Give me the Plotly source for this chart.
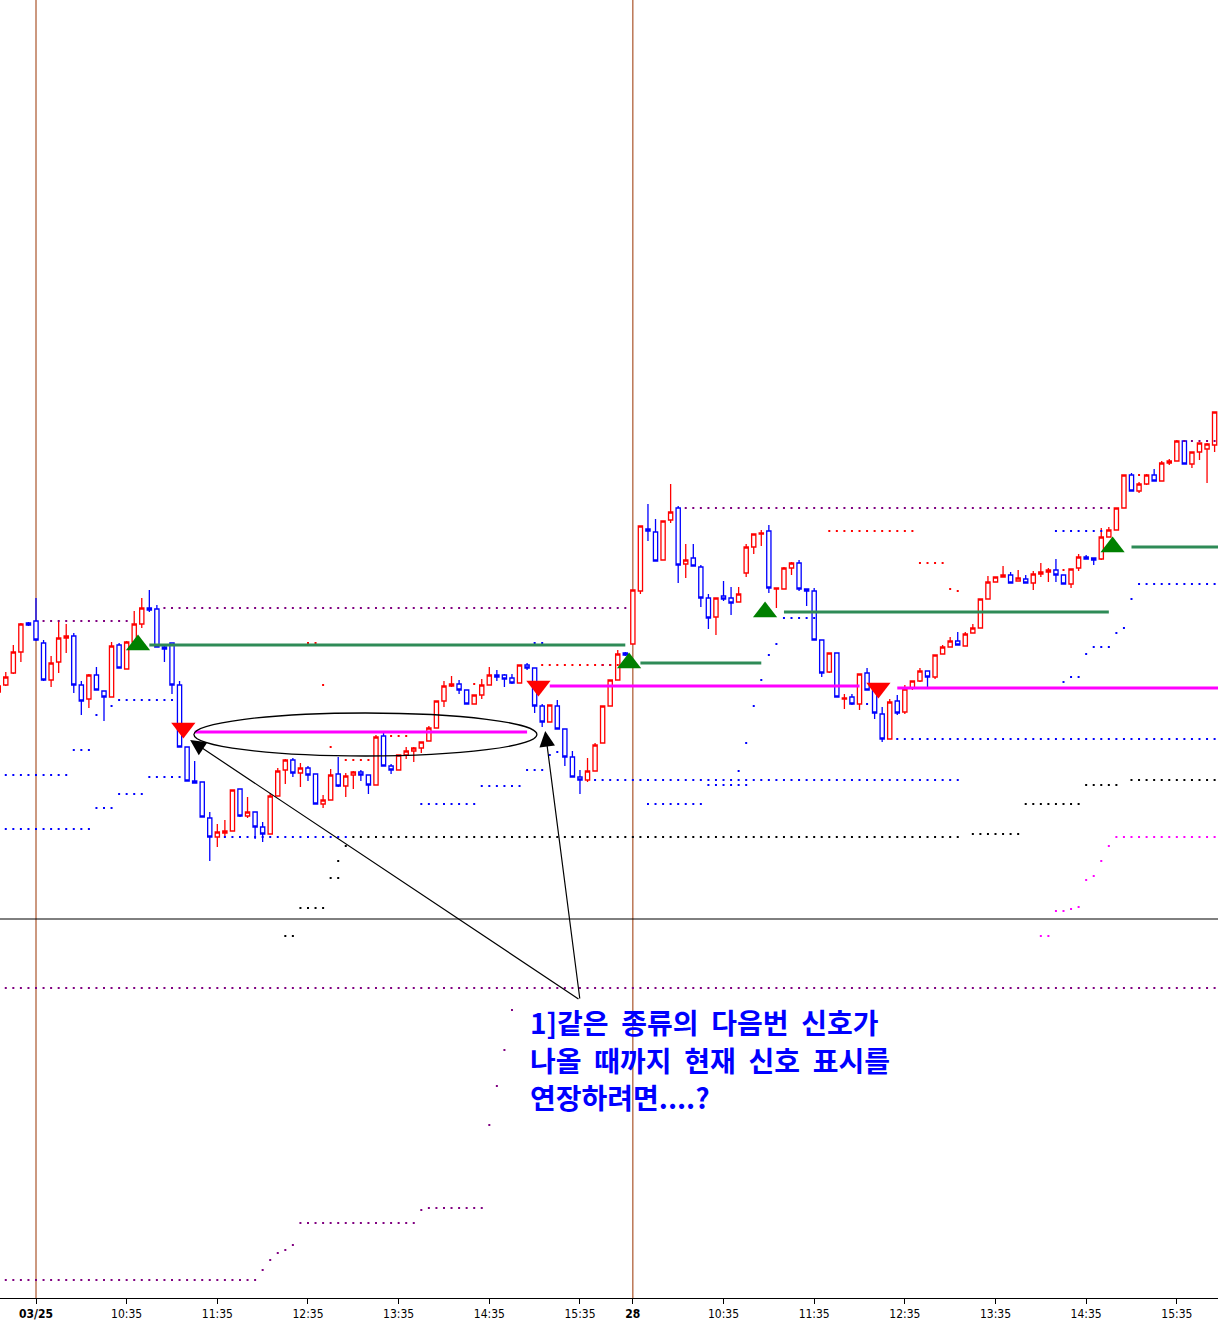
import plotly.graph_objects as go

# ---------------- data ----------------
bars = list(range(-5, 157))  # 5-minute bar index (0 = first bar of 03/25, 79 = first bar of 28)

open_ = [708, 715, 727, 748, 777, 779, 757, 720, 738, 762, 764, 715, 701, 725, 709, 703, 755, 731, 758, 776,
         792, 791, 753, 757, 715, 653, 619, 618, 582, 563, 567, 569, 611, 584, 588, 573, 566, 604, 630, 640,
         627, 632, 626, 596, 600, 626, 614, 625, 628, 625, 615, 664, 634, 630, 645, 649, 652, 659, 672, 699,
         714, 716, 710, 696, 705, 715, 725, 725, 722, 717, 735, 732, 694, 678, 694, 671, 643, 623, 620, 629,
         657, 694, 720, 747, 756, 809, 871, 868, 840, 880, 892, 836, 842, 833, 802, 783, 804, 802, 798, 827,
         853, 866, 869, 811, 811, 832, 837, 811, 809, 760, 728, 747, 701, 703, 696, 727, 710, 686, 661, 699,
         688, 712, 719, 729, 723, 746, 753, 759, 754, 767, 772, 801, 818, 823, 825, 819, 821, 817, 826, 828,
         830, 825, 816, 832, 843, 842, 841, 863, 870, 892, 925, 909, 916, 925, 919, 937, 939, 959, 936, 948,
         951, 955]
high = [716, 728, 755, 777, 778, 802, 760, 744, 780, 776, 767, 719, 726, 733, 709, 758, 757, 759, 789, 802,
        810, 795, 755, 757, 719, 653, 639, 618, 588, 576, 580, 610, 611, 603, 588, 578, 607, 632, 641, 642,
        637, 634, 626, 605, 631, 643, 627, 629, 630, 625, 665, 668, 636, 645, 653, 653, 658, 674, 699, 719,
        724, 720, 710, 705, 721, 733, 730, 726, 726, 735, 737, 732, 696, 695, 700, 671, 649, 630, 642, 657,
        694, 720, 750, 748, 810, 874, 896, 881, 879, 916, 894, 856, 856, 835, 806, 802, 819, 813, 813, 856,
        866, 870, 875, 812, 833, 838, 840, 811, 812, 760, 747, 747, 706, 706, 726, 732, 710, 693, 701, 705,
        715, 719, 732, 729, 745, 755, 763, 768, 768, 776, 801, 824, 823, 834, 828, 830, 825, 829, 837, 832,
        841, 825, 831, 846, 845, 842, 872, 873, 892, 925, 927, 918, 926, 931, 939, 941, 960, 960, 948, 957,
        957, 988]
low = [703, 714, 726, 738, 774, 759, 719, 713, 727, 747, 707, 685, 692, 710, 679, 703, 732, 731, 755, 772,
       788, 753, 738, 706, 653, 619, 617, 583, 539, 553, 563, 569, 583, 582, 561, 558, 566, 604, 616, 623,
       613, 619, 596, 592, 600, 613, 603, 611, 619, 606, 615, 634, 626, 630, 641, 638, 647, 659, 672, 693,
       713, 706, 696, 696, 701, 715, 719, 713, 716, 717, 730, 687, 673, 678, 671, 634, 623, 606, 618, 629,
       657, 694, 720, 744, 756, 806, 859, 839, 840, 877, 817, 822, 834, 793, 771, 765, 799, 785, 798, 823,
       846, 854, 807, 792, 811, 825, 809, 794, 760, 723, 727, 703, 691, 695, 690, 710, 681, 658, 661, 685,
       686, 710, 718, 713, 721, 746, 753, 755, 754, 767, 772, 801, 818, 823, 817, 819, 817, 810, 823, 818,
       818, 816, 812, 829, 841, 835, 840, 863, 870, 892, 909, 907, 915, 919, 919, 935, 939, 936, 932, 940,
       917, 948]
close = [714, 723, 748, 776, 775, 760, 720, 737, 762, 764, 715, 699, 725, 710, 703, 754, 732, 758, 776, 792,
         790, 753, 751, 715, 653, 619, 617, 583, 563, 568, 569, 610, 584, 588, 573, 566, 604, 629, 640, 627,
         632, 625, 596, 600, 625, 614, 624, 628, 625, 615, 663, 634, 630, 645, 649, 652, 658, 672, 699, 714,
         716, 710, 696, 705, 715, 725, 723, 721, 717, 735, 732, 694, 678, 695, 671, 643, 623, 620, 629, 655,
         694, 720, 746, 745, 810, 874, 869, 839, 879, 888, 835, 840, 834, 802, 782, 802, 801, 797, 806, 853,
         866, 867, 812, 812, 832, 837, 811, 809, 760, 727, 747, 703, 702, 696, 726, 710, 687, 661, 698, 687,
         711, 719, 729, 723, 745, 753, 759, 755, 766, 772, 801, 818, 823, 825, 817, 822, 817, 826, 828, 830,
         825, 816, 831, 843, 841, 840, 863, 870, 892, 925, 909, 916, 925, 919, 937, 939, 959, 936, 948, 957,
         956, 988]

tick_bars = [0, 12, 24, 36, 48, 60, 72, 79, 91, 103, 115, 127, 139, 151]
tick_labels = ["<b>03/25</b>", "10:35", "11:35", "12:35", "13:35", "14:35", "15:35",
               "<b>28</b>", "10:35", "11:35", "12:35", "13:35", "14:35", "15:35"]
day_start_bars = [0, 79]

# buy signals (bar, level) and the extended signal lines (start bar, end bar, level)
buy_signal_bar = [13.5, 78.5, 96.5, 142.5]
buy_signal_level = [755, 737, 788, 853]
buy_lines = [(15, 78, 755), (80, 96, 737), (99, 142, 788), (145, 157, 853)]
# sell signals
sell_signal_bar = [19.5, 66.5, 111.5]
sell_signal_level = [672, 714, 712]
sell_lines = [(21, 65, 668), (68, 109, 714), (114, 157, 712)]

# dotted indicator levels (start bar, end bar, level)
purple_dots = [(1, 12, 779), (17, 78, 792), (86, 142, 892), (152, 156, 959), (-5, 157, 412),
               (-5, 29, 120), (30, 30, 130), (31, 31, 140), (32, 32, 147), (33, 33, 150), (34, 34, 155),
               (35, 50, 177), (51, 51, 190), (52, 59, 192), (60, 60, 275), (61, 61, 314), (62, 62, 350),
               (63, 63, 390)]
magenta_dots = [(143, 157, 563), (142, 142, 554), (141, 141, 539), (140, 140, 524), (139, 139, 520),
                (138, 138, 493), (137, 137, 491), (135, 136, 489), (133, 134, 464)]
black_dots = [(42, 122, 563), (124, 130, 566), (41, 41, 554), (40, 40, 539), (39, 40, 522), (35, 38, 492),
              (33, 34, 464), (139, 143, 615), (145, 156, 620), (131, 138, 596)]
blue_dots = [(-4, 4, 625), (5, 7, 650), (-4, 7, 571), (15, 19, 623), (11, 14, 606), (8, 10, 592),
             (11, 18, 700), (10, 10, 694), (8, 8, 685), (25, 41, 563), (59, 64, 614), (51, 58, 596),
             (65, 67, 630), (66, 67, 757), (74, 122, 620), (68, 68, 645), (69, 69, 648), (81, 88, 596),
             (89, 94, 615), (75, 76, 735), (99, 103, 782), (98, 98, 756), (97, 97, 745), (96, 96, 720),
             (95, 95, 694), (94, 94, 657), (93, 93, 629), (110, 110, 696), (114, 156, 661),
             (146, 156, 816), (145, 145, 801), (144, 144, 772), (143, 143, 767), (140, 142, 753),
             (139, 139, 746), (137, 138, 723), (136, 136, 718), (135, 141, 869)]
red_dots = [(67, 77, 735), (58, 58, 716), (38, 38, 715), (39, 39, 653), (36, 37, 757), (47, 49, 664),
            (41, 44, 640), (105, 116, 869), (117, 120, 837), (121, 121, 811), (122, 122, 809),
            (136, 136, 830), (146, 146, 925)]

crosshair_level = 481
note_lines = ["1]같은 종류의 다음번 신호가", "나올 때까지 현재 신호 표시를", "연장하려면....?"]

# ---------------- figure ----------------
fig = go.Figure()


def add_dots(segments, color):
    xs, ys = [], []
    for s, e, lv in segments:
        for b in range(s, e + 1):
            xs.append(b)
            ys.append(lv)
    fig.add_trace(go.Scatter(x=xs, y=ys, mode="markers", hoverinfo="skip", showlegend=False,
                             marker=dict(symbol="square", size=2, color=color, line=dict(width=0))))


add_dots(purple_dots, "#800080")
add_dots(magenta_dots, "#FF00FF")
add_dots(black_dots, "#000000")
add_dots(blue_dots, "#0000FF")
add_dots(red_dots, "#FF0000")

fig.add_trace(go.Candlestick(
    x=bars, open=open_, high=high, low=low, close=close, showlegend=False,
    increasing=dict(line=dict(color="#FF0000", width=1.3), fillcolor="#FFFFFF"),
    decreasing=dict(line=dict(color="#0000FF", width=1.3), fillcolor="#FFFFFF"),
    whiskerwidth=0,
))


def add_lines(segments, color):
    xs, ys = [], []
    for s, e, lv in segments:
        xs += [s, e, None]
        ys += [lv, lv, None]
    fig.add_trace(go.Scatter(x=xs, y=ys, mode="lines", hoverinfo="skip", showlegend=False,
                             line=dict(color=color, width=3)))


add_lines(buy_lines, "#2E8B57")
add_lines(sell_lines, "#FF00FF")

fig.add_trace(go.Scatter(x=buy_signal_bar, y=buy_signal_level, mode="markers", showlegend=False,
                         marker=dict(symbol="triangle-up", size=21, color="#008000", line=dict(width=0))))
fig.add_trace(go.Scatter(x=sell_signal_bar, y=sell_signal_level, mode="markers", showlegend=False,
                         marker=dict(symbol="triangle-down", size=21, color="#FF0000", line=dict(width=0))))

# day separators and horizontal crosshair
for d in day_start_bars:
    fig.add_shape(type="line", xref="x", yref="paper", x0=d, x1=d, y0=0, y1=1,
                  line=dict(color="#993300", width=1), layer="below")
fig.add_shape(type="line", xref="paper", yref="y", x0=0, x1=1, y0=crosshair_level, y1=crosshair_level,
              line=dict(color="#000000", width=1), layer="below")

# ellipse around first extended sell line
fig.add_shape(type="circle", xref="x", yref="y", x0=20.9, x1=66.3, y0=644, y1=687,
              line=dict(color="#000000", width=1.3))

# arrows
for tip_x, tip_y in [(20.4, 660), (67.4, 669)]:
    fig.add_annotation(x=tip_x, y=tip_y, ax=72.0, ay=400, xref="x", yref="y", axref="x", ayref="y",
                       text="", showarrow=True, arrowhead=2, arrowsize=2.6, arrowwidth=1.2,
                       arrowcolor="#000000")

# note text (wider word gaps like the original)
for i, line in enumerate(note_lines):
    fig.add_annotation(x=65.3, y=378 - 37.5 * i, xref="x", yref="y", xanchor="left", yanchor="middle",
                       text="<b>" + line.replace(" ", " \u00a0") + "</b>", showarrow=False, borderpad=0,
                       font=dict(family="Noto Sans CJK KR", size=28, color="#0000FF"))

fig.update_layout(
    width=1218, height=1321,
    margin=dict(l=0, r=0, t=0, b=23),
    paper_bgcolor="#FFFFFF", plot_bgcolor="#FFFFFF",
    showlegend=False,
    boxgap=0.2,
    xaxis=dict(range=[-4.765, 156.45], rangeslider=dict(visible=False), showgrid=False, zeroline=False,
               tickmode="array", tickvals=tick_bars, ticktext=tick_labels, ticks="outside", ticklen=5,
               tickcolor="#000000", showline=True, linecolor="#000000", linewidth=1,
               tickfont=dict(family="Liberation Sans Narrow, DejaVu Sans Condensed, sans-serif",
                             size=12, color="#000000")),
    yaxis=dict(range=[102, 1400], showgrid=False, zeroline=False, showticklabels=False, ticks=""),
)

fig.write_html("out.html", config={"displayModeBar": False},
               post_script="document.body.style.margin='0';document.body.style.padding='0';")
